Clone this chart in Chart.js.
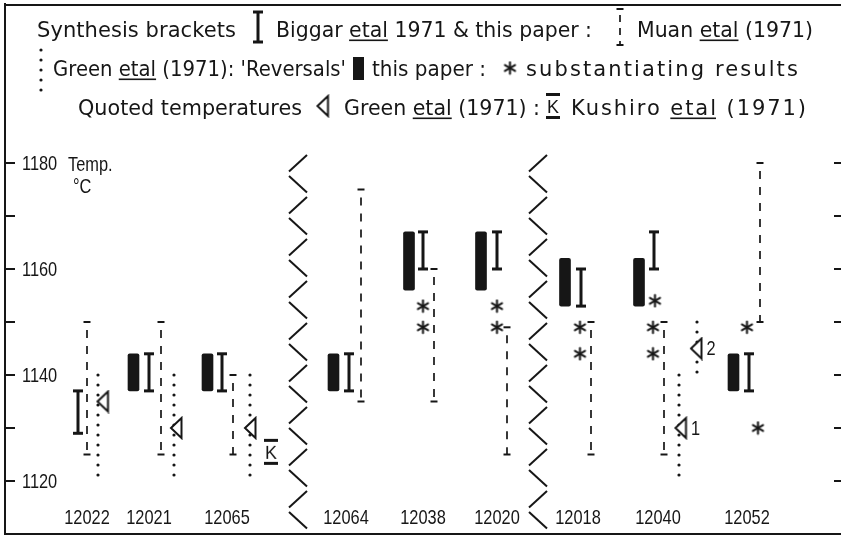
<!DOCTYPE html>
<html>
<head>
<meta charset="utf-8">
<script src="https://cdn.jsdelivr.net/npm/chart.js@4.4.1/dist/chart.umd.min.js"></script>
<style>
  html, body { margin: 0; padding: 0; background: #fff; }
</style>
</head>
<body>
<canvas id="chart" width="841" height="539"></canvas>
<script>
// sample numbers along the bottom
const samples = ['12022', '12021', '12065', '12064', '12038', '12020', '12018', '12040', '12052'];
const yTicks = [1120, 1130, 1140, 1150, 1160, 1170, 1180];
const yLabels = [1120, 1140, 1160, 1180];

// synthesis brackets, Biggar etal 1971 & this paper (°C), one per sample
const biggarLow  = [1129, 1137, 1137, 1137, 1160, 1160, 1153, 1160, 1137];
const biggarHigh = [1137, 1144, 1144, 1144, 1167, 1167, 1160, 1167, 1144];
// Muan etal (1971)
const muanLow  = [1125, 1125, 1125, 1135, 1135, 1125, 1125, 1125, 1150];
const muanHigh = [1150, 1150, 1140, 1175, 1160, 1149, 1150, 1150, 1180];
// Green etal (1971) brackets: 12022, 12021, 12065, 12040 (1), 12040 (2)
const greenLow  = [1120, 1120, 1120, 1120, 1140];
const greenHigh = [1140, 1140, 1140, 1140, 1150];
// reversals, this paper: 12021, 12065, 12064, 12038, 12020, 12018, 12040, 12052
const revLow  = [1137, 1137, 1137, 1156, 1156, 1153, 1153, 1137];
const revHigh = [1144, 1144, 1144, 1167, 1167, 1162, 1162, 1144];
// quoted temperatures, Green etal (1971)
const quotedTemp = [1135, 1130, 1130, 1130, 1145];
const quotedNote = ['', '', '', '1', '2'];
// quoted temperature, Kushiro etal (1971): 12065
const kushiroTemp = [1125.5];
// substantiating results: 12038 x2, 12020 x2, 12018 x2, 12040 x3, 12052 x2
const starTemp = [1153, 1149, 1153, 1149, 1149, 1144, 1154, 1149, 1144, 1149, 1130];

// layout: x positions in frame units (0..836), kept apart from the values
const labelX   = [82, 144, 222, 341, 418, 492, 573, 653, 742];
const biggarX  = [73, 144, 217, 344, 418, 492, 576, 649, 744];
const muanX    = [82, 156, 228, 356, 429, 502, 586, 659, 755];
const greenX   = [93, 169, 245, 674, 692];
const revX     = [128.5, 202.5, 328.5, 404, 476, 560, 634, 728.5];
const quotedX  = [98, 171.5, 245.5, 676, 691.5];
const kushiroX = [266];
const starX    = [418, 418, 492, 492, 575, 575, 650, 648, 648, 742, 753];
const breakX   = [293, 533];
const breakTop = 1181.5;

const INK = '#161616';
const NARROW = "'Liberation Sans', Arial, sans-serif";
const WIDE = "'DejaVu Sans', sans-serif";

function makeCanvas(w, h, draw) {
    const c = document.createElement('canvas');
    c.width = w;
    c.height = h;
    draw(c.getContext('2d'), w, h);
    return c;
}

// condensed lettering for the numbers on the plot
function narrowText(ctx, text, x, y, align) {
    const sx = 0.78;
    ctx.save();
    ctx.font = '21px ' + NARROW;
    ctx.textAlign = align || 'left';
    ctx.translate(x, y);
    ctx.scale(sx, 1);
    ctx.fillText(text, 0, 0);
    ctx.restore();
}

// little point symbols
const starImg = makeCanvas(15, 15, (g, w, h) => {
    g.strokeStyle = INK;
    g.lineWidth = 2.1;
    g.lineCap = 'round';
    const r = 5.8;
    for (let k = 0; k < 3; k++) {
        const a = Math.PI / 2 + k * Math.PI / 3;
        g.beginPath();
        g.moveTo(w / 2 - r * Math.cos(a), h / 2 - r * Math.sin(a));
        g.lineTo(w / 2 + r * Math.cos(a), h / 2 + r * Math.sin(a));
        g.stroke();
    }
});

const triImg = makeCanvas(15, 24, (g, w, h) => {
    g.strokeStyle = INK;
    g.fillStyle = '#fff';
    g.lineWidth = 2;
    g.beginPath();
    g.moveTo(2, h / 2);
    g.lineTo(w - 2.5, 2);
    g.lineTo(w - 2.5, h - 2);
    g.closePath();
    g.fill();
    g.stroke();
});

const kImg = makeCanvas(18, 28, (g, w, h) => {
    g.fillStyle = INK;
    g.fillRect(2, 1, 14, 3);
    g.fillRect(2, 24, 14, 3);
    g.font = '18px ' + NARROW;
    g.textAlign = 'center';
    g.fillText('K', w / 2, 21);
});

function rangeData(xs, lows, highs) {
    const out = [];
    xs.forEach((x, i) => {
        out.push({ x: x, y: highs[i] }, { x: x, y: lows[i] }, { x: x, y: null });
    });
    return out;
}

function pointData(xs, ys) {
    return xs.map((x, i) => ({ x: x, y: ys[i] }));
}

// legend symbols, drawn in pixels inside the box
function symBiggar(ctx, x, y0, y1) {
    ctx.save();
    ctx.strokeStyle = INK;
    ctx.lineWidth = 3;
    ctx.beginPath();
    ctx.moveTo(x, y0); ctx.lineTo(x, y1);
    ctx.moveTo(x - 5, y0); ctx.lineTo(x + 5, y0);
    ctx.moveTo(x - 5, y1); ctx.lineTo(x + 5, y1);
    ctx.stroke();
    ctx.restore();
}

function symMuan(ctx, x, y0, y1) {
    ctx.save();
    ctx.strokeStyle = INK;
    ctx.lineWidth = 2;
    ctx.beginPath();
    ctx.moveTo(x - 3.5, y0); ctx.lineTo(x + 3.5, y0);
    ctx.moveTo(x - 3.5, y1); ctx.lineTo(x + 3.5, y1);
    ctx.stroke();
    ctx.lineWidth = 1.7;
    ctx.setLineDash([7, 6]);
    ctx.lineDashOffset = 7;
    ctx.beginPath();
    ctx.moveTo(x, y0); ctx.lineTo(x, y1);
    ctx.stroke();
    ctx.restore();
}

function symGreen(ctx, x, y0, y1) {
    ctx.save();
    ctx.fillStyle = INK;
    for (let y = y0; y <= y1 + 0.5; y += 10) {
        ctx.beginPath();
        ctx.arc(x, y, 1.6, 0, Math.PI * 2);
        ctx.fill();
    }
    ctx.restore();
}

// legend rows: text runs with their start and end x, and the symbols between
const legendRows = [
    { base: 37, items: [
        { text: 'Synthesis brackets', x: 37, x1: 236 },
        { sym: 'biggar', x: 258, y0: 12, y1: 42 },
        { text: 'Biggar etal 1971 & this paper :', x: 276, x1: 592 },
        { sym: 'muan', x: 620, y0: 9, y1: 45 },
        { text: 'Muan etal (1971)', x: 637, x1: 813 }
    ] },
    { base: 76, items: [
        { sym: 'green', x: 41, y0: 50, y1: 90 },
        { text: "Green etal (1971): 'Reversals'", x: 53, x1: 346 },
        { sym: 'rev', x: 353, y0: 57, y1: 80 },
        { text: 'this paper :', x: 372, x1: 486 },
        { sym: 'star', x: 510, y: 68 },
        { text: 'substantiating results', x: 526, x1: 800 }
    ] },
    { base: 115, items: [
        { text: 'Quoted temperatures', x: 78, x1: 302 },
        { sym: 'tri', x: 323, y: 106 },
        { text: 'Green etal (1971) :', x: 344, x1: 540 },
        { sym: 'k', x: 553, y: 106 },
        { text: 'Kushiro etal (1971)', x: 571, x1: 808 }
    ] }
];

function drawLegend(ctx) {
    ctx.save();
    ctx.fillStyle = INK;
    ctx.strokeStyle = INK;
    ctx.font = '21px ' + WIDE;
    ctx.textBaseline = 'alphabetic';
    legendRows.forEach(row => {
        row.items.forEach(it => {
            if (it.text) {
                ctx.save();
                const natural = ctx.measureText(it.text).width;
                const target = it.x1 - it.x;
                let ls = 0;
                // widen with letter spacing like the lettering guide, squeeze by scaling
                if (target > natural && 'letterSpacing' in ctx) {
                    ls = (target - natural) / it.text.length;
                    ctx.letterSpacing = ls.toFixed(2) + 'px';
                }
                const sx = target / ctx.measureText(it.text).width;
                ctx.translate(it.x, row.base);
                ctx.scale(sx, 1);
                ctx.fillText(it.text, 0, 0);
                let idx = it.text.indexOf('etal');
                while (idx >= 0) {
                    const ux = ctx.measureText(it.text.slice(0, idx)).width;
                    const uw = ctx.measureText('etal').width - ls;
                    ctx.fillRect(ux, 2.5, uw, 1.6);
                    idx = it.text.indexOf('etal', idx + 4);
                }
                ctx.restore();
            } else if (it.sym === 'biggar') {
                symBiggar(ctx, it.x, it.y0, it.y1);
            } else if (it.sym === 'muan') {
                symMuan(ctx, it.x, it.y0, it.y1);
            } else if (it.sym === 'green') {
                symGreen(ctx, it.x, it.y0, it.y1);
            } else if (it.sym === 'rev') {
                ctx.fillRect(it.x, it.y0, 11, it.y1 - it.y0);
            } else if (it.sym === 'star') {
                ctx.drawImage(starImg, it.x - starImg.width / 2, it.y - starImg.height / 2);
            } else if (it.sym === 'tri') {
                ctx.drawImage(triImg, it.x - triImg.width / 2, it.y - triImg.height / 2);
            } else if (it.sym === 'k') {
                ctx.drawImage(kImg, it.x - kImg.width / 2, it.y - kImg.height / 2);
            }
        });
    });
    ctx.restore();
}

// frame top, inward tick marks and their labels, axis breaks, notes and legend
const framePlugin = {
    id: 'frame',
    afterDatasetsDraw(chart) {
        const ctx = chart.ctx;
        const meta = chart.getDatasetMeta(0);
        ctx.save();
        ctx.fillStyle = INK;
        ctx.textBaseline = 'middle';
        meta.data.forEach((pt, i) => {
            if (quotedNote[i]) narrowText(ctx, quotedNote[i], pt.x + 10, pt.y + 1);
        });
        ctx.restore();
    },
    afterDraw(chart) {
        const ctx = chart.ctx;
        const area = chart.chartArea;
        const xs = chart.scales.x;
        const ys = chart.scales.y;
        ctx.save();
        ctx.strokeStyle = INK;
        ctx.fillStyle = INK;
        ctx.lineWidth = 2;

        ctx.beginPath();
        ctx.moveTo(area.left - 1, area.top + 1);
        ctx.lineTo(area.right, area.top + 1);
        ctx.stroke();

        ctx.textBaseline = 'middle';
        ys.ticks.forEach(t => {
            const py = Math.round(ys.getPixelForValue(t.value));
            ctx.beginPath();
            ctx.moveTo(area.left, py); ctx.lineTo(area.left + 10, py);
            ctx.moveTo(area.right - 7, py); ctx.lineTo(area.right, py);
            ctx.stroke();
            if (yLabels.includes(t.value)) narrowText(ctx, String(t.value), area.left + 17, py + 1);
        });

        xs.ticks.forEach((t, i) => {
            narrowText(ctx, samples[i], xs.getPixelForValue(t.value), area.bottom - 16, 'center');
        });

        // zigzag axis breaks
        breakX.forEach(v => {
            const cx = xs.getPixelForValue(v);
            let y0 = ys.getPixelForValue(breakTop);
            for (let k = 0; y0 < area.bottom - 2; k++, y0 += 21) {
                const y1 = Math.min(y0 + 16.5, area.bottom);
                const f = (y1 - y0) / 16.5;
                ctx.beginPath();
                if (k % 2 === 0) {
                    ctx.moveTo(cx + 9, y0); ctx.lineTo(cx + 9 - 18 * f, y1);
                } else {
                    ctx.moveTo(cx - 9, y0); ctx.lineTo(cx - 9 + 18 * f, y1);
                }
                ctx.stroke();
            }
        });

        // axis title
        const t = ys.getPixelForValue(1180);
        ctx.textBaseline = 'alphabetic';
        narrowText(ctx, 'Temp.', area.left + 63, t + 8);
        narrowText(ctx, '°C', area.left + 68, t + 30);
        ctx.restore();

        drawLegend(ctx);
    }
};

function flatten(s) {
    s.paddingTop = 0;
    s.paddingBottom = 0;
    s.paddingLeft = 0;
    s.paddingRight = 0;
    if (s.isHorizontal()) s.height = 0; else s.width = 0;
}

const ctx = document.getElementById('chart').getContext('2d');

new Chart(ctx, {
    type: 'line',
    data: {
        datasets: [
            {
                type: 'scatter',
                label: 'Quoted temperatures, Green etal (1971)',
                data: pointData(quotedX, quotedTemp),
                pointStyle: triImg,
                showLine: false
            },
            {
                type: 'scatter',
                label: 'Kushiro etal (1971)',
                data: pointData(kushiroX, kushiroTemp),
                pointStyle: kImg,
                showLine: false
            },
            {
                type: 'scatter',
                label: 'substantiating results',
                data: pointData(starX, starTemp),
                pointStyle: starImg,
                showLine: false
            },
            {
                type: 'bar',
                label: 'Reversals this paper',
                data: revX.map((x, i) => ({ x: x, y: [revLow[i], revHigh[i]] })),
                backgroundColor: INK,
                barThickness: 11,
                borderRadius: 2,
                borderSkipped: false
            },
            {
                label: 'Biggar etal 1971 & this paper',
                data: rangeData(biggarX, biggarLow, biggarHigh),
                borderColor: INK,
                borderWidth: 3,
                pointStyle: 'line',
                pointRadius: 5,
                pointBorderWidth: 3,
                pointBorderColor: INK,
                spanGaps: false
            },
            {
                label: 'Muan etal (1971)',
                data: rangeData(muanX, muanLow, muanHigh),
                borderColor: INK,
                borderWidth: 1.7,
                borderDash: [8, 8],
                borderDashOffset: 8,
                pointStyle: 'line',
                pointRadius: 3.5,
                pointBorderWidth: 2,
                pointBorderColor: INK,
                spanGaps: false
            },
            {
                label: 'Green etal (1971)',
                data: rangeData(greenX, greenLow, greenHigh),
                borderColor: INK,
                borderWidth: 3.2,
                borderDash: [0, 10],
                borderCapStyle: 'round',
                pointRadius: 0,
                spanGaps: false
            }
        ]
    },
    options: {
        responsive: false,
        animation: false,
        events: [],
        layout: {
            autoPadding: false,
            padding: { left: 5, top: 4, right: 0, bottom: 5 }
        },
        plugins: {
            legend: { display: false },
            tooltip: { enabled: false }
        },
        scales: {
            x: {
                type: 'linear',
                min: 0,
                max: 836,
                offset: false,
                grid: { display: false, drawTicks: false },
                border: { display: true, width: 2, color: INK },
                afterBuildTicks: s => { s.ticks = labelX.map(v => ({ value: v })); },
                afterFit: flatten,
                ticks: { display: false }
            },
            y: {
                type: 'linear',
                min: 1110,
                max: 1210,
                grid: { display: false, drawTicks: false },
                border: { display: true, width: 2, color: INK },
                afterBuildTicks: s => { s.ticks = yTicks.map(v => ({ value: v })); },
                afterFit: flatten,
                ticks: { display: false }
            }
        }
    },
    plugins: [framePlugin]
});
</script>
</body>
</html>
